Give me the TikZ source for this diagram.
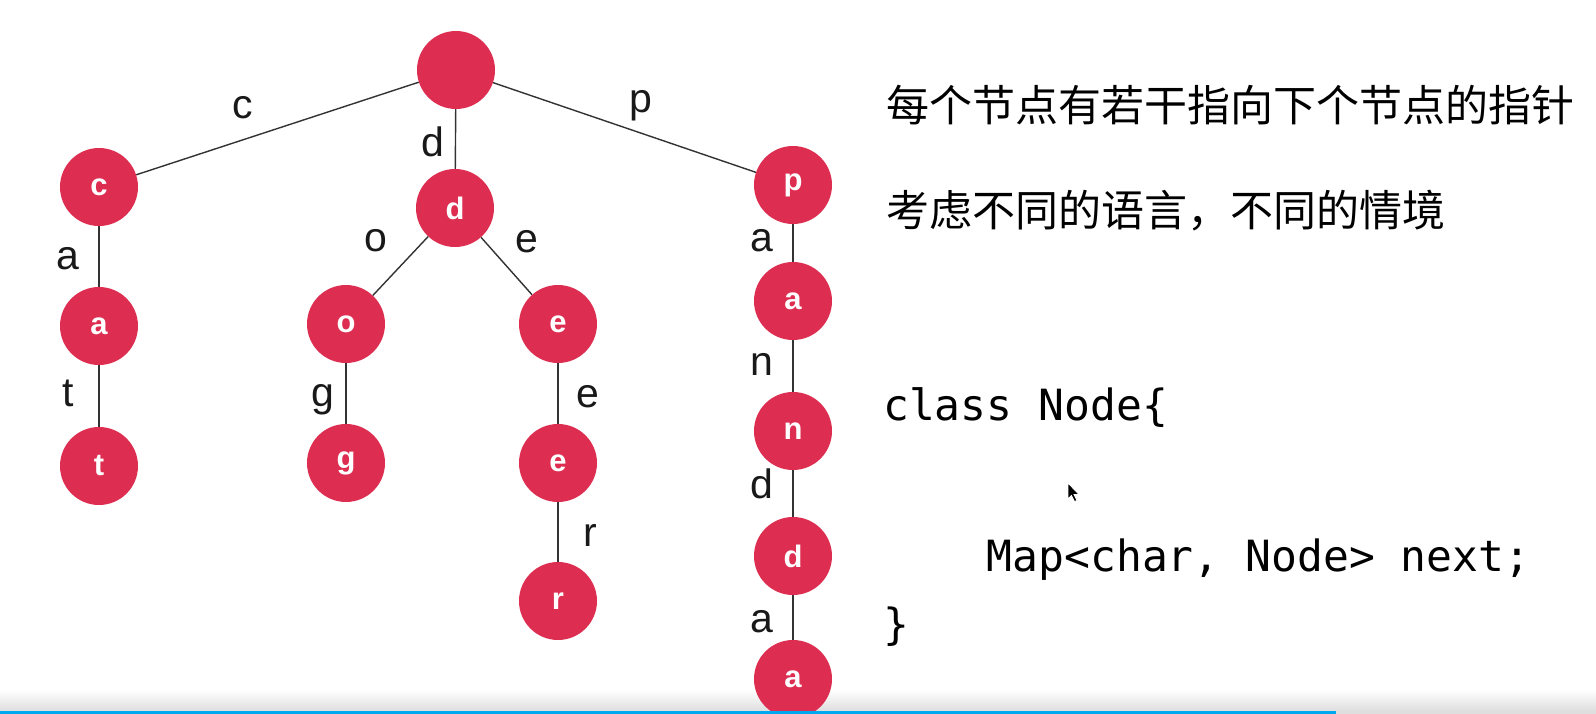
\documentclass[tikz,border=0pt]{standalone}
\usepackage{fontspec}
\setmainfont{Liberation Sans}
\newfontfamily\cjkfont{Noto Sans CJK SC}
\newfontfamily\codefont{DejaVu Sans Mono}
\definecolor{nodered}{RGB}{221,46,81}
\definecolor{barblue}{RGB}{0,168,240}
\definecolor{bargray}{RGB}{222,222,222}
\begin{document}
\begin{tikzpicture}[x=1pt,y=-1pt,
  tnode/.style={circle,fill=nodered,minimum size=78pt,inner sep=0pt,text=white,
    font=\fontsize{31}{31}\selectfont\bfseries},
  edge/.style={draw=black!80,line width=1.4pt},
  elabel/.style={font=\fontsize{41}{41}\selectfont,inner sep=0pt,text=black!90},
  rtext/.style={anchor=west,inner sep=0pt,font=\cjkfont\fontsize{43}{43}\selectfont},
  code/.style={anchor=base west,inner sep=0pt,font=\codefont\fontsize{43}{43}\selectfont}]
\useasboundingbox (0,0) rectangle (1596,714);
\fill[white] (0,0) rectangle (1596,714);
% bottom bar gradient
\shade[top color=white,bottom color=bargray] (0,690) rectangle (1596,711);
\fill[bargray] (0,711) rectangle (1596,714);

% tree nodes
\node[tnode] (root) at (456,70) {};
\node[tnode] (c)  at (99,187)  {c};
\node[tnode] (ca) at (99,326)  {a};
\node[tnode] (ct) at (99,466)  {t};
\node[tnode] (d)  at (455,208) {d};
\node[tnode] (o)  at (346,324) {o};
\node[tnode] (e)  at (558,324) {e};
\node[tnode] (g)  at (346,463) {g};
\node[tnode] (ee) at (558,463) {e};
\node[tnode] (r)  at (558,601) {r};
\node[tnode] (p)  at (793,185) {p};
\node[tnode] (pa) at (793,301) {a};
\node[tnode] (pn) at (793,431) {n};
\node[tnode] (pd) at (793,556) {d};
\node[tnode] (pa2) at (793,679) {a};

% edges
\draw[edge] (root) -- (c);
\draw[edge] (root) -- (d);
\draw[edge] (root) -- (p);
\draw[edge] (c) -- (ca);
\draw[edge] (ca) -- (ct);
\draw[edge] (d) -- (o);
\draw[edge] (d) -- (e);
\draw[edge] (o) -- (g);
\draw[edge] (e) -- (ee);
\draw[edge] (ee) -- (r);
\draw[edge] (p) -- (pa);
\draw[edge] (pa) -- (pn);
\draw[edge] (pn) -- (pd);
\draw[edge] (pd) -- (pa2);

% edge labels
\node[elabel] (lc) at (243,108) {c};
\node[elabel] (ld) at (433,142) {d};
\node[elabel] (lp) at (641,106) {p};
\node[elabel] (lca) at (68,259) {a};
\node[elabel] (lct) at (68,393) {t};
\node[elabel] (lo) at (376,241) {o};
\node[elabel] (le) at (527,242) {e};
\node[elabel] (lg) at (323,400) {g};
\node[elabel] (lee) at (588,397) {e};
\node[elabel] (lr) at (590,535) {r};
\node[elabel] (lpa) at (762,241) {a};
\node[elabel] (lpn) at (762,364) {n};
\node[elabel] (lpd) at (762,484) {d};
\node[elabel] (lpa2) at (762,622) {a};

% right text
\node[rtext] (t1) at (886,105) {每个节点有若干指向下个节点的指针};
\node[rtext] (t2) at (886,211) {考虑不同的语言，不同的情境};
\node[code] (k1) at (883,420) {class Node\{};
\node[code] (k2) at (986.5,571) {Map<char, Node> next;};
\node[code] (k3) at (883,639) {\}};

% mouse cursor
\filldraw[fill=black,draw=white,line width=0.8pt]
  (1068,483) -- (1068,499) -- (1071.5,495.5) -- (1074.5,501.5) -- (1077,500.5)
  -- (1074,494.5) -- (1079,494.5) -- cycle;

% progress bar
\fill[barblue] (0,711) rectangle (1336,714);
\end{tikzpicture}
\end{document}
